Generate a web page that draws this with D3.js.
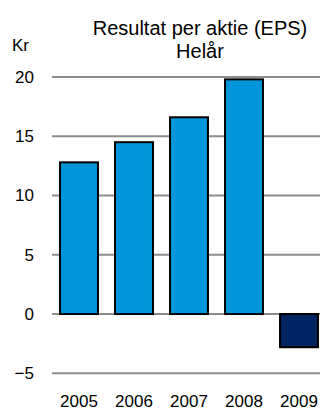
<!DOCTYPE html>
<html>
<head>
<meta charset="utf-8">
<script src="https://cdn.jsdelivr.net/npm/d3@7"></script>
<style>
  html, body { margin: 0; padding: 0; background: #fff; }
  svg { display: block; font-family: "Liberation Sans", Arial, sans-serif; }
</style>
</head>
<body>
<div id="chart"></div>
<script>
// data
const years = ["2005", "2006", "2007", "2008", "2009"];
const eps = [12.8, 14.5, 16.6, 19.8, -2.8];
const yTicks = [-5, 0, 5, 10, 15, 20];
const titleLines = ["Resultat per aktie (EPS)", "Helår"];

const width = 320, height = 412;

const svg = d3.select("#chart").append("svg")
  .attr("width", width)
  .attr("height", height);

const x = d3.scaleBand()
  .domain(years)
  .range([51.5, 326.5])
  .paddingInner(0.31)
  .paddingOuter(0.155);

const y = d3.scaleLinear()
  .domain([-5, 20])
  .range([373.3, 77]);

// gridlines + tick labels
const yAxis = d3.axisLeft(y)
  .tickValues(yTicks)
  .tickSize(0)
  .tickPadding(0);

const ga = svg.append("g")
  .attr("transform", "translate(34,0)")
  .call(yAxis);
ga.select(".domain").remove();
ga.selectAll("text")
  .attr("font-size", "17px")
  .attr("fill", "#000")
  .attr("font-family", "Liberation Sans, Arial, sans-serif");

svg.append("g")
  .selectAll("line")
  .data(yTicks)
  .join("line")
  .attr("x1", 52)
  .attr("x2", width)
  .attr("y1", d => y(d))
  .attr("y2", d => y(d))
  .attr("stroke", "#8c8c8c")
  .attr("stroke-width", 2);

// bars
svg.append("g")
  .selectAll("rect")
  .data(eps)
  .join("rect")
  .attr("x", (d, i) => x(years[i]))
  .attr("width", x.bandwidth())
  .attr("y", d => y(Math.max(0, d)))
  .attr("height", d => Math.abs(y(d) - y(0)))
  .attr("fill", d => d < 0 ? "#002461" : "#0096d9")
  .attr("stroke", "#000")
  .attr("stroke-width", 2);

// year labels
const xAxis = d3.axisBottom(x).tickSize(0).tickPadding(0);
const gx = svg.append("g")
  .attr("transform", "translate(0,395)")
  .call(xAxis);
gx.select(".domain").remove();
gx.selectAll("text")
  .attr("font-size", "17px")
  .attr("fill", "#000")
  .attr("font-family", "Liberation Sans, Arial, sans-serif");

// title
svg.append("g")
  .selectAll("text")
  .data(titleLines)
  .join("text")
  .attr("x", 200)
  .attr("y", (d, i) => 35 + i * 23)
  .attr("text-anchor", "middle")
  .attr("font-size", "20px")
  .text(d => d);

svg.append("text")
  .attr("x", 12)
  .attr("y", 51)
  .attr("font-size", "17px")
  .text("Kr");
</script>
</body>
</html>
